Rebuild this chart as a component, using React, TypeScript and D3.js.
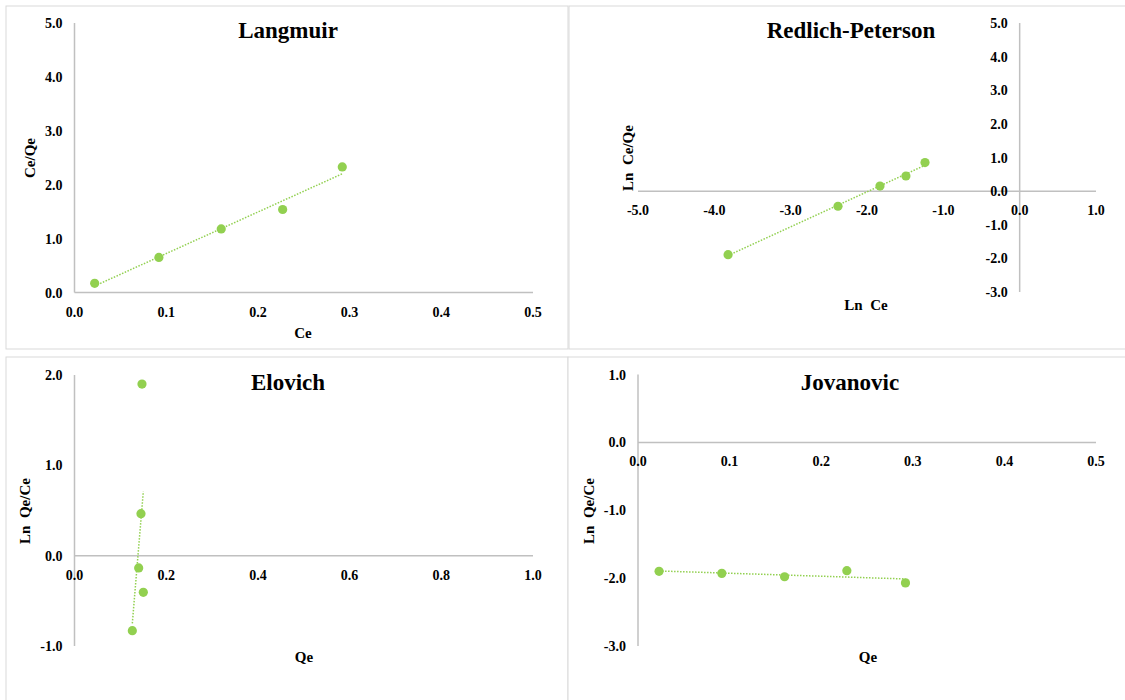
import React from "react";
import { scaleLinear, line, mean } from "d3";

// Langmuir: Ce vs Ce/Qe
const langmuirCe = [0.022, 0.092, 0.16, 0.227, 0.292];
const langmuirCeQe = [0.17, 0.65, 1.18, 1.54, 2.33];
const langmuirXTicks = [0, 0.1, 0.2, 0.3, 0.4, 0.5];
const langmuirYTicks = [0, 1, 2, 3, 4, 5];

// Redlich-Peterson: Ln Ce vs Ln Ce/Qe
const rpLnCe = [-3.82, -2.38, -1.83, -1.49, -1.24];
const rpLnCeQe = [-1.89, -0.45, 0.15, 0.45, 0.85];
const rpXTicks = [-5, -4, -3, -2, -1, 0, 1];
const rpYTicks = [-3, -2, -1, 0, 1, 2, 3, 4, 5];

// Elovich: Qe vs Ln Qe/Ce
const elovichQe = [0.1472, 0.145, 0.14, 0.1501, 0.1261];
const elovichLnQeCe = [1.9, 0.465, -0.136, -0.406, -0.83];
const elovichXTicks = [0, 0.2, 0.4, 0.6, 0.8, 1];
const elovichYTicks = [-1, 0, 1, 2];

// Jovanovic: Qe vs Ln Qe/Ce
const jovanovicQe = [0.023, 0.0915, 0.16, 0.228, 0.292];
const jovanovicLnQeCe = [-1.9, -1.93, -1.98, -1.89, -2.07];
const jovanovicXTicks = [0, 0.1, 0.2, 0.3, 0.4, 0.5];
const jovanovicYTicks = [-3, -2, -1, 0, 1];

const FONT = "'Liberation Serif', 'Times New Roman', serif";
const GREEN = "#92d050";
const AXIS = "#c0c0c0";

// least squares trendline
const linearFit = (xs: number[], ys: number[]) => {
  const mx = mean(xs)!;
  const my = mean(ys)!;
  let sxy = 0;
  let sxx = 0;
  xs.forEach((x, i) => {
    sxy += (x - mx) * (ys[i] - my);
    sxx += (x - mx) * (x - mx);
  });
  const b = sxy / sxx;
  return (x: number) => my + b * (x - mx);
};

const Panel = ({
  box, xRange, yRange, xDomain, yDomain, xTicks, yTicks, xs, ys,
  title, titlePos, xTitle, xTitlePos, yTitle, yTitlePos
}: any) => {
  const x = scaleLinear().domain(xDomain).range(xRange);
  const y = scaleLinear().domain(yDomain).range(yRange);
  const x0 = x(0);
  const y0 = y(0);
  const f = linearFit(xs, ys);
  const xmin = Math.min(...xs);
  const xmax = Math.max(...xs);
  const trend = line<number>()
    .x((d) => x(d))
    .y((d) => y(f(d)))([xmin, xmax]);

  return (
    <g>
      <rect x={box[0]} y={box[1]} width={box[2]} height={box[3]} fill="#fff" stroke="#d9d9d9" strokeWidth={1} />
      {/* axes */}
      <line x1={x0} x2={x0} y1={yRange[0]} y2={yRange[1]} stroke={AXIS} strokeWidth={1.5} />
      <line x1={xRange[0]} x2={xRange[1]} y1={y0} y2={y0} stroke={AXIS} strokeWidth={1.5} />
      {yTicks.map((t: number) => (
        <text key={"y" + t} x={x0 - 12} y={y(t) + 5} textAnchor="end" fontFamily={FONT} fontWeight="bold" fontSize={14} fill="#000">
          {t.toFixed(1)}
        </text>
      ))}
      {xTicks.map((t: number) => (
        <text key={"x" + t} x={x(t)} y={y0 + 24} textAnchor="middle" fontFamily={FONT} fontWeight="bold" fontSize={14} fill="#000">
          {t.toFixed(1)}
        </text>
      ))}
      {/* trendline */}
      <path d={trend!} fill="none" stroke={GREEN} strokeWidth={1.5} strokeDasharray="1.5 1.5" />
      {xs.map((d: number, i: number) => (
        <circle key={i} cx={x(d)} cy={y(ys[i])} r={4.6} fill={GREEN} />
      ))}
      <text x={titlePos[0]} y={titlePos[1]} textAnchor="middle" fontFamily={FONT} fontWeight="bold" fontSize={23} fill="#000">
        {title}
      </text>
      <text x={xTitlePos[0]} y={xTitlePos[1]} textAnchor="middle" fontFamily={FONT} fontWeight="bold" fontSize={15} fill="#000" xmlSpace="preserve">
        {xTitle}
      </text>
      <text transform={`translate(${yTitlePos[0]},${yTitlePos[1]}) rotate(-90)`} textAnchor="middle" fontFamily={FONT} fontWeight="bold" fontSize={15} fill="#000" xmlSpace="preserve">
        {yTitle}
      </text>
    </g>
  );
};

export default function App() {
  return (
    <div style={{ position: "absolute", left: 0, top: 0 }}>
      <svg width={1125} height={700} style={{ display: "block", background: "#fff" }}>
        <Panel
          box={[6, 6, 562, 343]}
          xRange={[74.5, 533]} yRange={[292.5, 23]}
          xDomain={[0, 0.5]} yDomain={[0, 5]}
          xTicks={langmuirXTicks} yTicks={langmuirYTicks}
          xs={langmuirCe} ys={langmuirCeQe}
          title="Langmuir" titlePos={[288, 38]}
          xTitle="Ce" xTitlePos={[303, 338]}
          yTitle="Ce/Qe" yTitlePos={[35, 158]}
        />
        <Panel
          box={[569, 6, 570, 343]}
          xRange={[638, 1096]} yRange={[292, 23]}
          xDomain={[-5, 1]} yDomain={[-3, 5]}
          xTicks={rpXTicks} yTicks={rpYTicks}
          xs={rpLnCe} ys={rpLnCeQe}
          title="Redlich-Peterson" titlePos={[851, 38]}
          xTitle="Ln  Ce" xTitlePos={[866, 310]}
          yTitle="Ln  Ce/Qe" yTitlePos={[633, 158]}
        />
        <Panel
          box={[6, 357, 562, 350]}
          xRange={[74.5, 533]} yRange={[646, 375]}
          xDomain={[0, 1]} yDomain={[-1, 2]}
          xTicks={elovichXTicks} yTicks={elovichYTicks}
          xs={elovichQe} ys={elovichLnQeCe}
          title="Elovich" titlePos={[288, 390]}
          xTitle="Qe" xTitlePos={[304, 662]}
          yTitle="Ln  Qe/Ce" yTitlePos={[30, 511]}
        />
        <Panel
          box={[568, 357, 570, 350]}
          xRange={[638, 1096]} yRange={[646, 374.5]}
          xDomain={[0, 0.5]} yDomain={[-3, 1]}
          xTicks={jovanovicXTicks} yTicks={jovanovicYTicks}
          xs={jovanovicQe} ys={jovanovicLnQeCe}
          title="Jovanovic" titlePos={[850, 390]}
          xTitle="Qe" xTitlePos={[868, 662]}
          yTitle="Ln  Qe/Ce" yTitlePos={[594, 511]}
        />
      </svg>
    </div>
  );
}
